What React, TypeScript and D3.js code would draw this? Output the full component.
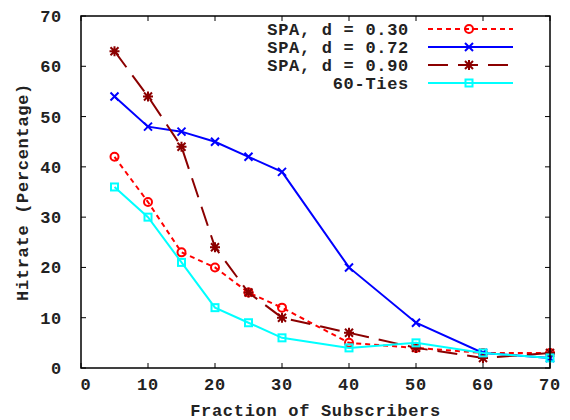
import React from "react";
import * as d3 from "d3";

// fraction of subscribers (%)
const fractions = [5, 10, 15, 20, 25, 30, 40, 50, 60, 70];
const spa030 = [42, 33, 23, 20, 15, 12, 5, 4, 3, 3];
const spa072 = [54, 48, 47, 45, 42, 39, 20, 9, 3, 2];
const spa090 = [63, 54, 44, 24, 15, 10, 7, 4, 2, 3];
const ties60 = [36, 30, 21, 12, 9, 6, 4, 5, 3, 2];

const xTicks = [0, 10, 20, 30, 40, 50, 60, 70];
const yTicks = [0, 10, 20, 30, 40, 50, 60, 70];

const seriesNames = ["SPA, d = 0.30", "SPA, d = 0.72", "SPA, d = 0.90", "60-Ties"];

const W = 570;
const H = 420;
const margin = { top: 16, right: 20, bottom: 52, left: 81 };
const font = "'Liberation Mono', 'DejaVu Sans Mono', monospace";

const series = [
  { name: seriesNames[0], values: spa030, color: "#ff0000", dash: "5,4", marker: "circle" },
  { name: seriesNames[1], values: spa072, color: "#0000ff", dash: null, marker: "x" },
  { name: seriesNames[2], values: spa090, color: "#8b0000", dash: "20,10", marker: "star" },
  { name: seriesNames[3], values: ties60, color: "#00ffff", dash: null, marker: "square" },
];

const Marker = ({ type, x, y, color }: { type: string; x: number; y: number; color: string }) => {
  const s = 4;
  if (type === "circle")
    return <circle cx={x} cy={y} r={4} fill="none" stroke={color} strokeWidth={2} />;
  if (type === "square")
    return <rect x={x - 3.5} y={y - 3.5} width={7} height={7} fill="none" stroke={color} strokeWidth={2} />;
  if (type === "x")
    return (
      <path d={`M${x - s},${y - s}L${x + s},${y + s}M${x - s},${y + s}L${x + s},${y - s}`} stroke={color} strokeWidth={2} />
    );
  // star: x plus +
  return (
    <path
      d={`M${x - s},${y - s}L${x + s},${y + s}M${x - s},${y + s}L${x + s},${y - s}M${x - s - 1},${y}L${x + s + 1},${y}M${x},${y - s - 1}L${x},${y + s + 1}`}
      stroke={color}
      strokeWidth={2}
    />
  );
};

export default function App() {
  const x = d3.scaleLinear().domain([0, 70]).range([margin.left, W - margin.right]);
  const y = d3.scaleLinear().domain([0, 70]).range([H - margin.bottom, margin.top]);

  const line = d3
    .line<number>()
    .x((_, i) => x(fractions[i]))
    .y((d) => y(d));

  const x0 = x(0), x1 = x(70), y0 = y(0), y1 = y(70);
  const textStyle = { fontFamily: font, fontWeight: "bold" as const, fontSize: 17, letterSpacing: 0.7 };

  return (
    <svg width={W} height={H} style={{ position: "absolute", left: 0, top: 0, background: "#fff" }}>
      {/* ticks, inward on all four sides */}
      {yTicks.map((t) => (
        <g key={"y" + t}>
          <line x1={x0} x2={x0 + 5} y1={y(t)} y2={y(t)} stroke="#000" />
          <line x1={x1} x2={x1 - 5} y1={y(t)} y2={y(t)} stroke="#000" />
          <text x={62} y={y(t)} dy="0.35em" textAnchor="end" fill="#222" {...textStyle}>
            {t}
          </text>
        </g>
      ))}
      {xTicks.map((t) => (
        <g key={"x" + t}>
          <line x1={x(t)} x2={x(t)} y1={y0} y2={y0 - 5} stroke="#000" />
          <line x1={x(t)} x2={x(t)} y1={y1} y2={y1 + 5} stroke="#000" />
          <text x={x(t) + (t === 0 ? 5 : 0)} y={y0 + 22} textAnchor="middle" fill="#222" {...textStyle}>
            {t}
          </text>
        </g>
      ))}

      {series.map((s) => (
        <g key={s.name}>
          <path d={line(s.values) || ""} fill="none" stroke={s.color} strokeWidth={2} strokeDasharray={s.dash || undefined} />
          {s.values.map((v, i) => (
            <Marker key={i} type={s.marker} x={x(fractions[i])} y={y(v)} color={s.color} />
          ))}
        </g>
      ))}

      <rect x={x0} y={y1} width={x1 - x0} height={y0 - y1} fill="none" stroke="#000" strokeWidth={1.5} />

      {/* legend */}
      {series.map((s, i) => {
        const ly = 29 + i * 18;
        return (
          <g key={"lg" + i}>
            <text x={409} y={ly} dy="0.35em" textAnchor="end" fill="#222" {...textStyle}>
              {s.name}
            </text>
            <line x1={428} x2={513} y1={ly} y2={ly} stroke={s.color} strokeWidth={2} strokeDasharray={s.dash || undefined} />
            <Marker type={s.marker} x={469} y={ly} color={s.color} />
          </g>
        );
      })}

      <text x={(x0 + x1) / 2} y={416} textAnchor="middle" fill="#222" {...textStyle}>
        Fraction of Subscribers
      </text>
      <text
        transform={`translate(28,${(y0 + y1) / 2}) rotate(-90)`}
        textAnchor="middle"
        fill="#222"
        {...textStyle}
      >
        Hitrate (Percentage)
      </text>
    </svg>
  );
}
